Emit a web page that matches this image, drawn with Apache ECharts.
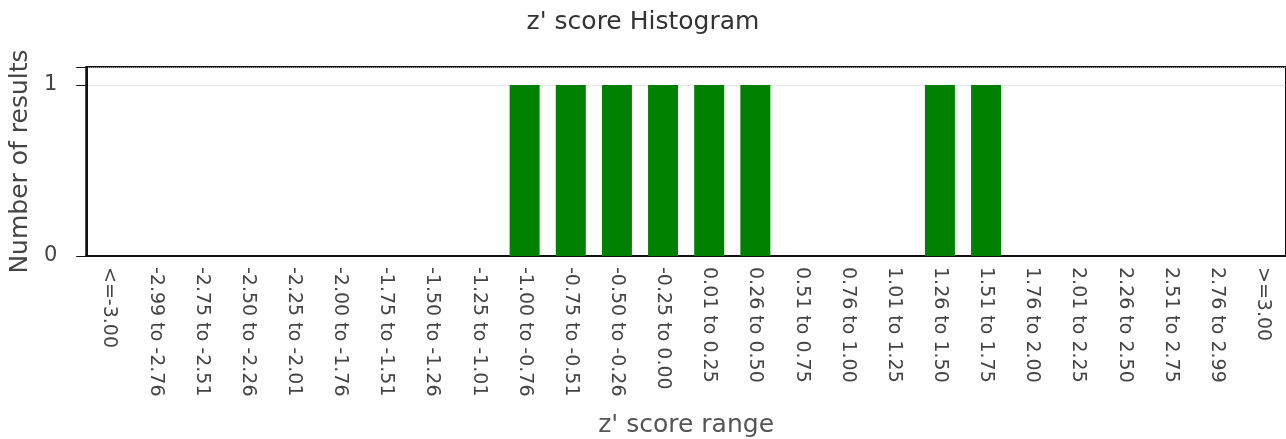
<!DOCTYPE html>
<html><head><meta charset="utf-8">
<script src="https://cdn.jsdelivr.net/npm/echarts@6/dist/echarts.min.js"></script>
<style>html,body{margin:0;padding:0;background:#fff}#c{width:1286px;height:439px}</style>
</head><body><div id="c"></div>
<script>
const categories = ["<=-3.00","-2.99 to -2.76","-2.75 to -2.51","-2.50 to -2.26","-2.25 to -2.01","-2.00 to -1.76","-1.75 to -1.51","-1.50 to -1.26","-1.25 to -1.01","-1.00 to -0.76","-0.75 to -0.51","-0.50 to -0.26","-0.25 to 0.00","0.01 to 0.25","0.26 to 0.50","0.51 to 0.75","0.76 to 1.00","1.01 to 1.25","1.26 to 1.50","1.51 to 1.75","1.76 to 2.00","2.01 to 2.25","2.26 to 2.50","2.51 to 2.75","2.76 to 2.99",">=3.00"];
const counts = [0,0,0,0,0,0,0,0,0,1,1,1,1,1,1,0,0,0,1,1,0,0,0,0,0,0];
const yTicks = [0,1];
const font = 'DejaVu Sans, Verdana, sans-serif';
const chart = echarts.init(document.getElementById('c'));
chart.setOption({
  animation:false,
  title:{text:"z' score Histogram",left:'center',top:5,textStyle:{fontFamily:font,fontSize:25,fontWeight:'normal',color:'#333'}},
  grid:{left:85,right:0,top:67,bottom:183,show:true,borderColor:'#111',borderWidth:2,backgroundColor:'#fff'},
  xAxis:{type:'category',data:categories,
    name:"z' score range",nameLocation:'middle',nameGap:157,
    nameTextStyle:{fontFamily:font,fontSize:25,color:'#555'},
    axisLine:{lineStyle:{color:'#111',width:2}},axisTick:{show:false},
    axisLabel:{rotate:-90,interval:0,margin:11,fontFamily:font,fontSize:19,color:'#444'}},
  yAxis:{type:'value',min:0,max:1.105,interval:1,
    name:'Number of results',nameLocation:'middle',nameGap:51,
    nameTextStyle:{fontFamily:font,fontSize:25,color:'#444'},
    axisLine:{show:true,lineStyle:{color:'#111',width:2}},
    axisTick:{show:true,length:10,lineStyle:{color:'#111'}},
    axisLabel:{margin:29,fontFamily:font,fontSize:21,color:'#444',formatter:v=>yTicks.includes(v)?String(v):''},
    splitLine:{show:true,lineStyle:{color:'#ccc',type:'dotted'}}},
  series:[{type:'bar',data:counts,barWidth:30,itemStyle:{color:'#008000'}}]
});
</script></body></html>
